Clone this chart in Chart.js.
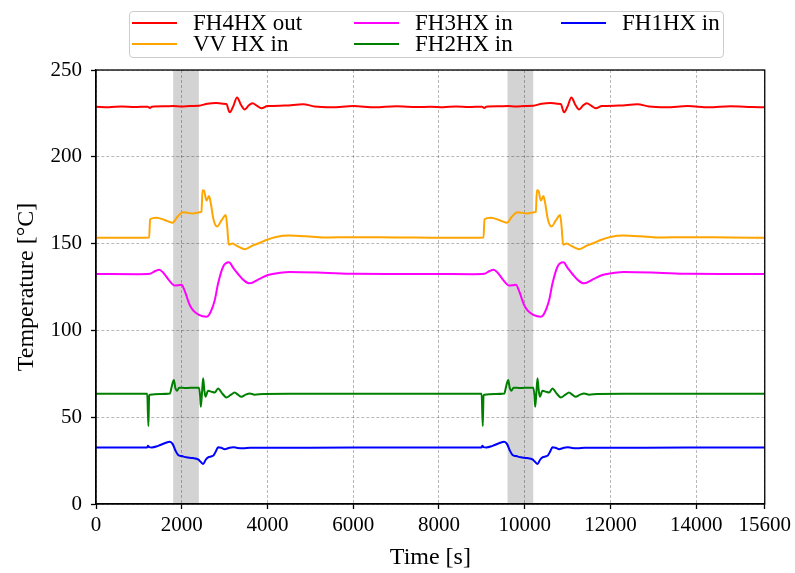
<!DOCTYPE html>
<html>
<head>
<meta charset="utf-8">
<script src="https://cdn.jsdelivr.net/npm/chart.js@4.4.0/dist/chart.umd.min.js"></script>
<style>
    html, body { margin: 0; padding: 0; background: #fff; }
    #wrap { position: relative; width: 795px; height: 573px; }
    #legend {
        position: absolute; left: 129px; top: 11px; width: 593px; height: 45px;
        border: 1px solid #cccccc; border-radius: 4px; background: #fff;
        display: grid; grid-template-columns: 222px 207px auto; grid-template-rows: 21.5px 21.5px;
        grid-auto-flow: column; font-family: 'Liberation Serif', serif; font-size: 23px; color: #000;
    }
    .item { display: flex; align-items: center; white-space: nowrap; }
    .swatch { width: 45px; height: 2px; margin: 0 16px 0 2px; }
</style>
</head>
<body>
<div id="wrap">
    <canvas id="tempChart" width="795" height="573"></canvas>
    <div id="legend"></div>
</div>
<script>
// axis ticks and shaded windows
const xTicks = [0, 2000, 4000, 6000, 8000, 10000, 12000, 14000, 15600];
const yTicks = [0, 50, 100, 150, 200, 250];
const bandStart = [1800, 9600];
const bandEnd = [2400, 10200];

// FH4HX out
const fh4Time = [0, 300, 600, 900, 1200, 1260, 1300, 1600, 1800, 2000, 2200, 2400, 2600, 2800, 2950, 3040, 3120, 3200, 3290, 3380, 3470, 3560, 3650, 3750, 3860, 4000, 4400, 4830, 5100, 5500, 6000, 6500, 7000, 7500,
    7800, 8100, 8400, 8700, 9000, 9060, 9100, 9400, 9600, 9800, 10000, 10200, 10400, 10600, 10750, 10840, 10920, 11000, 11090, 11180, 11270, 11360, 11450, 11550, 11660, 11800, 12200, 12630, 12900, 13300, 13800, 14300, 14800, 15300, 15600];
const fh4Temp = [228.8, 228.6, 229.0, 228.7, 228.9, 228.1, 228.9, 229.1, 229.2, 229.0, 229.3, 229.4, 230.6, 231.0, 230.6, 230.4, 225.6, 229.0, 234.2, 230.0, 227.3, 229.5, 230.8, 229.5, 227.9, 229.2, 229.5, 230.3, 229.0, 228.6, 229.2, 228.5, 229.1, 228.7,
    228.8, 228.6, 229.0, 228.7, 228.9, 228.1, 228.9, 229.1, 229.2, 229.0, 229.3, 229.4, 230.6, 231.0, 230.6, 230.4, 225.6, 229.0, 234.2, 230.0, 227.3, 229.5, 230.8, 229.5, 227.9, 229.2, 229.5, 230.3, 229.0, 228.6, 229.2, 228.5, 229.1, 228.7, 228.5];

// VV HX in
const vvTime = [0, 600, 1240, 1262, 1413, 1600, 1785, 1900, 2033, 2266, 2420, 2460, 2485, 2520, 2577, 2637, 2680, 2740, 2823, 2930, 3027, 3060, 3097, 3180, 3276, 3469, 3650, 3850, 3974, 4200, 4500, 4900, 5300, 6000, 7000,
    7800, 8400, 9040, 9062, 9213, 9400, 9585, 9700, 9833, 10066, 10220, 10260, 10285, 10320, 10377, 10437, 10480, 10540, 10623, 10730, 10827, 10860, 10897, 10980, 11076, 11269, 11450, 11650, 11774, 12000, 12300, 12700, 13100, 13800, 14800, 15600];
const vvTemp = [153.4, 153.3, 153.5, 164.0, 164.9, 163.6, 162.0, 165.5, 168.0, 167.4, 168.0, 168.3, 180.8, 180.5, 174.8, 177.4, 173.0, 164.0, 159.8, 163.5, 166.5, 160.0, 149.4, 150.0, 148.8, 146.8, 148.8, 150.8, 152.1, 153.8, 154.6, 154.2, 153.5, 153.7, 153.5,
    153.4, 153.3, 153.5, 164.0, 164.9, 163.6, 162.0, 165.5, 168.0, 167.4, 168.0, 168.3, 180.8, 180.5, 174.8, 177.4, 173.0, 164.0, 159.8, 163.5, 166.5, 160.0, 149.4, 150.0, 148.8, 146.8, 148.8, 150.8, 152.1, 153.8, 154.6, 154.2, 153.5, 153.7, 153.5, 153.4];

// FH3HX in
const fh3Time = [0, 1000, 1257, 1380, 1475, 1560, 1700, 1839, 1920, 1995, 2080, 2180, 2266, 2400, 2577, 2650, 2771, 2848, 2965, 3104, 3200, 3314, 3450, 3586, 3800, 4012, 4300, 4517, 5293, 6000, 7000,
    7800, 8800, 9057, 9180, 9275, 9360, 9500, 9639, 9720, 9795, 9880, 9980, 10066, 10200, 10377, 10450, 10571, 10648, 10765, 10904, 11000, 11114, 11250, 11386, 11600, 11812, 12100, 12317, 13093, 13800, 14800, 15600];
const fh3Temp = [132.5, 132.4, 132.6, 134.2, 134.9, 133.5, 129.0, 125.8, 126.0, 126.3, 122.0, 115.0, 111.5, 109.0, 107.9, 109.5, 117.5, 127.0, 136.7, 139.2, 136.0, 132.5, 128.8, 127.1, 129.5, 131.9, 133.2, 133.6, 133.2, 132.6, 132.5,
    132.5, 132.4, 132.6, 134.2, 134.9, 133.5, 129.0, 125.8, 126.0, 126.3, 122.0, 115.0, 111.5, 109.0, 107.9, 109.5, 117.5, 127.0, 136.7, 139.2, 136.0, 132.5, 128.8, 127.1, 129.5, 131.9, 133.2, 133.6, 133.2, 132.6, 132.5, 132.5];

// FH2HX in
const fh2Time = [0, 1195, 1222, 1240, 1257, 1500, 1723, 1770, 1816, 1850, 1893, 1940, 2100, 2300, 2400, 2430, 2445, 2470, 2499, 2525, 2553, 2615, 2700, 2770, 2848, 2950, 3043, 3140, 3236, 3310, 3391, 3490, 3586, 3700, 3900, 4500, 6000,
    7800, 8995, 9022, 9040, 9057, 9300, 9523, 9570, 9616, 9650, 9693, 9740, 9900, 10100, 10200, 10230, 10245, 10270, 10299, 10325, 10353, 10415, 10500, 10570, 10648, 10750, 10843, 10940, 11036, 11110, 11191, 11290, 11386, 11500, 11700, 12300, 13800, 15600];
const fh2Temp = [63.5, 63.5, 44.9, 62.5, 63.0, 63.3, 63.6, 68.0, 71.4, 67.0, 65.3, 67.0, 66.8, 67.0, 67.0, 62.0, 56.0, 63.0, 72.4, 66.0, 61.8, 65.3, 64.6, 64.2, 66.6, 63.5, 61.4, 62.8, 64.3, 63.0, 61.8, 63.0, 63.7, 63.0, 63.4, 63.5, 63.5,
    63.5, 63.5, 44.9, 62.5, 63.0, 63.3, 63.6, 68.0, 71.4, 67.0, 65.3, 67.0, 66.8, 67.0, 67.0, 62.0, 56.0, 63.0, 72.4, 66.0, 61.8, 65.3, 64.6, 64.2, 66.6, 63.5, 61.4, 62.8, 64.3, 63.0, 61.8, 63.0, 63.7, 63.0, 63.4, 63.5, 63.5, 63.5];

// FH1HX in
const fh1Time = [0, 1195, 1210, 1240, 1300, 1450, 1600, 1723, 1790, 1850, 1917, 2000, 2111, 2250, 2382, 2440, 2499, 2560, 2615, 2700, 2747, 2800, 2848, 2920, 3003, 3100, 3197, 3300, 3430, 3600, 4000, 6000,
    7800, 8995, 9010, 9040, 9100, 9250, 9400, 9523, 9590, 9650, 9717, 9800, 9911, 10050, 10182, 10240, 10299, 10360, 10415, 10500, 10547, 10600, 10648, 10720, 10803, 10900, 10997, 11100, 11230, 11400, 11800, 13800, 15600];
const fh1Temp = [32.5, 32.5, 33.6, 32.8, 32.6, 33.5, 35.0, 35.9, 34.5, 31.0, 28.2, 27.6, 26.9, 26.5, 25.7, 24.3, 23.0, 25.5, 26.9, 27.5, 28.2, 30.5, 32.7, 32.4, 31.6, 32.3, 32.7, 32.3, 32.1, 32.4, 32.4, 32.5,
    32.5, 32.5, 33.6, 32.8, 32.6, 33.5, 35.0, 35.9, 34.5, 31.0, 28.2, 27.6, 26.9, 26.5, 25.7, 24.3, 23.0, 25.5, 26.9, 27.5, 28.2, 30.5, 32.7, 32.4, 31.6, 32.3, 32.7, 32.3, 32.1, 32.4, 32.4, 32.5, 32.5];

const seriesLabels = ['FH4HX out', 'VV HX in', 'FH3HX in', 'FH2HX in', 'FH1HX in'];
const seriesColors = ['#ff0000', '#ffa500', '#ff00ff', '#008000', '#0000ff'];

const serifFont = "'Liberation Serif', 'Times New Roman', serif";

function toPoints(times, temps) {
    return times.map((t, i) => ({ x: t, y: temps[i] }));
}

const seriesData = [
    toPoints(fh4Time, fh4Temp),
    toPoints(vvTime, vvTemp),
    toPoints(fh3Time, fh3Temp),
    toPoints(fh2Time, fh2Temp),
    toPoints(fh1Time, fh1Temp)
];

// grey windows behind the grid
const bandPlugin = {
    id: 'bands',
    beforeDraw(chart) {
        const { ctx, chartArea, scales } = chart;
        ctx.save();
        ctx.fillStyle = '#d3d3d3';
        bandStart.forEach((s, i) => {
            const x1 = scales.x.getPixelForValue(s);
            const x2 = scales.x.getPixelForValue(bandEnd[i]);
            ctx.fillRect(x1, chartArea.top, x2 - x1, chartArea.bottom - chartArea.top);
        });
        ctx.restore();
    }
};

// full box around the plot like matplotlib spines
const framePlugin = {
    id: 'frame',
    afterDraw(chart) {
        const { ctx, chartArea } = chart;
        ctx.save();
        ctx.strokeStyle = '#000';
        ctx.lineWidth = 1.3;
        ctx.strokeRect(chartArea.left, chartArea.top, chartArea.right - chartArea.left, chartArea.bottom - chartArea.top);
        ctx.restore();
    }
};

const ctx = document.getElementById('tempChart').getContext('2d');
const tempChart = new Chart(ctx, {
    type: 'line',
    data: {
        datasets: seriesLabels.map((label, i) => ({
            label: label,
            data: seriesData[i],
            borderColor: seriesColors[i],
            backgroundColor: seriesColors[i],
            borderWidth: 2,
            pointRadius: 0,
            cubicInterpolationMode: 'monotone',
            fill: false
        }))
    },
    options: {
        responsive: false,
        animation: false,
        devicePixelRatio: 1,
        layout: { padding: { top: 70, right: 28, left: 0, bottom: 0 } },
        plugins: {
            legend: { display: false },
            tooltip: { enabled: false }
        },
        scales: {
            x: {
                type: 'linear',
                min: 0,
                max: 15600,
                afterBuildTicks: scale => { scale.ticks = xTicks.map(v => ({ value: v })); },
                afterFit: scale => { scale.height = 69; },
                ticks: {
                    autoSkip: false,
                    maxRotation: 0,
                    padding: 4,
                    color: '#000',
                    font: { family: serifFont, size: 21 },
                    callback: v => String(v)
                },
                grid: { color: 'rgba(0,0,0,0.28)', lineWidth: 1, tickColor: '#000', tickLength: 5, tickWidth: 1.3 },
                border: { color: '#000', width: 1.3, dash: [3, 2] },
                title: {
                    display: true,
                    text: 'Time [s]',
                    color: '#000',
                    font: { family: serifFont, size: 24 },
                    padding: { top: 0, bottom: 1 }
                }
            },
            y: {
                min: 0,
                max: 250,
                afterBuildTicks: scale => { scale.ticks = yTicks.map(v => ({ value: v })); },
                afterFit: scale => { scale.width = 96; },
                ticks: {
                    padding: 9,
                    color: '#000',
                    font: { family: serifFont, size: 21 },
                    callback: v => String(v)
                },
                grid: { color: 'rgba(0,0,0,0.28)', lineWidth: 1, tickColor: '#000', tickLength: 5, tickWidth: 1.3 },
                border: { color: '#000', width: 1.3, dash: [3, 2] },
                title: {
                    display: true,
                    text: 'Temperature [°C]',
                    color: '#000',
                    font: { family: serifFont, size: 24 },
                    padding: { top: 12, bottom: 0 }
                }
            }
        }
    },
    plugins: [bandPlugin, framePlugin]
});

// legend in matplotlib column order (3 columns, 2 rows)
const legendBox = document.getElementById('legend');
tempChart.data.datasets.forEach(ds => {
    const item = document.createElement('div');
    item.className = 'item';
    const swatch = document.createElement('span');
    swatch.className = 'swatch';
    swatch.style.background = ds.borderColor;
    const text = document.createElement('span');
    text.textContent = ds.label;
    item.appendChild(swatch);
    item.appendChild(text);
    legendBox.appendChild(item);
});
</script>
</body>
</html>
